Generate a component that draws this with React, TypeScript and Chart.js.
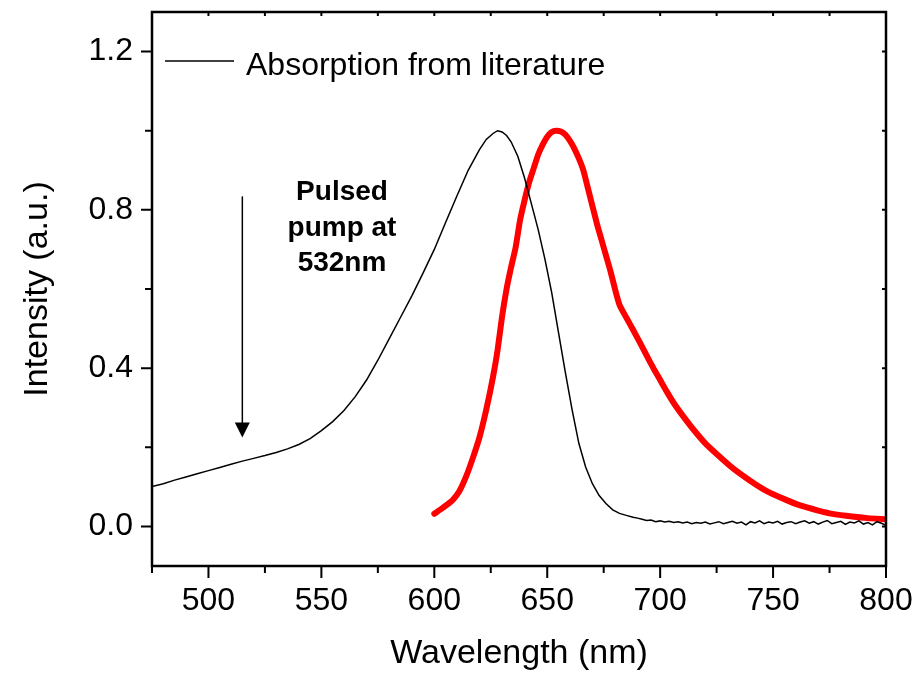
import React, { useEffect, useRef } from "react";
import { Chart, registerables } from "chart.js";

Chart.register(...registerables);

// ---------- data ----------
const absWavelength = [
  475, 480, 485, 490, 495, 500, 505, 510, 515, 520, 525, 530, 535, 540, 545, 550, 555, 560, 565, 570,
  575, 580, 585, 590, 595, 600, 605, 610, 615, 620, 623, 626, 628, 630, 632, 634, 637, 640, 643, 646,
  649, 652, 655, 658, 661, 664, 667, 670, 673, 676, 679, 682, 685, 688, 690, 692, 694, 696, 698, 700,
  702, 704, 706, 708, 710, 712, 714, 716, 718, 720, 722, 724, 726, 728, 730, 732, 734, 736, 738, 740,
  742, 744, 746, 748, 750, 752, 754, 756, 758, 760, 762, 764, 766, 768, 770, 772, 774, 776, 778, 780,
  782, 784, 786, 788, 790, 792, 794, 796, 798, 800,
];
const absIntensity = [
  0.101, 0.108, 0.117, 0.125, 0.133, 0.141, 0.149, 0.157, 0.165, 0.172, 0.179, 0.187, 0.196, 0.207, 0.222, 0.242, 0.265, 0.293, 0.328, 0.370,
  0.420, 0.474, 0.528, 0.582, 0.640, 0.700, 0.768, 0.835, 0.900, 0.952, 0.978, 0.993, 1.000, 0.997, 0.988, 0.972, 0.935, 0.880, 0.815, 0.750,
  0.675, 0.590, 0.490, 0.390, 0.295, 0.210, 0.150, 0.108, 0.078, 0.058, 0.042, 0.033, 0.028, 0.023, 0.021, 0.018, 0.015, 0.016, 0.012, 0.014,
  0.011, 0.013, 0.010, 0.012, 0.009, 0.011, 0.007, 0.010, 0.008, 0.011, 0.006, 0.009, 0.012, 0.007, 0.010, 0.013, 0.008, 0.011, 0.004, 0.012,
  0.009, 0.014, 0.007, 0.011, 0.009, 0.013, 0.006, 0.010, 0.012, 0.007, 0.011, 0.014, 0.008, 0.012, 0.006, 0.011, 0.015, 0.007, 0.010, 0.013,
  0.005, 0.011, 0.009, 0.014, 0.006, 0.010, 0.004, 0.012, 0.008, 0.003,
];

const emWavelength = [
  600, 604, 608, 611, 614, 617, 620, 623, 626, 628, 630, 632, 634, 636, 638, 640, 642, 644, 646, 648,
  650, 652, 654, 656, 658, 660, 662, 664, 666, 668, 670, 672, 674, 676, 678, 680, 682, 685, 688, 691,
  694, 697, 700, 703, 706, 710, 715, 720, 726, 732, 740, 747, 755, 762, 770, 777, 785, 792, 800,
];
const emIntensity = [
  0.032, 0.048, 0.066, 0.088, 0.125, 0.172, 0.225, 0.295, 0.378, 0.445, 0.530, 0.600, 0.655, 0.705, 0.775, 0.825, 0.870, 0.905, 0.940, 0.965,
  0.985, 0.997, 1.000, 0.998, 0.990, 0.975, 0.955, 0.930, 0.900, 0.855, 0.810, 0.765, 0.725, 0.685, 0.645, 0.600, 0.560, 0.528, 0.497, 0.465,
  0.432, 0.400, 0.370, 0.340, 0.312, 0.280, 0.243, 0.210, 0.178, 0.148, 0.115, 0.090, 0.069, 0.053, 0.040, 0.031, 0.025, 0.021, 0.018,
];

const xMajorTicks = [500, 550, 600, 650, 700, 750, 800];
const xMinorTicks = [475, 525, 575, 625, 675, 725, 775];
const yMajorTicks = [0.0, 0.4, 0.8, 1.2];
const yMinorTicks = [0.2, 0.6, 1.0];

const xMin = 475;
const xMax = 800;
const yMin = -0.1;
const yMax = 1.3;

const legendLabel = "Absorption from literature";
const annotationLines = ["Pulsed", "pump at", "532nm"];
const arrowWavelength = 515;
const arrowTop = 0.834;
const arrowTip = 0.225;

const FONT = 'Arial, "Liberation Sans", Helvetica, sans-serif';

const framePlugin = {
  id: "framePlugin",
  afterDatasetsDraw(chart: any) {
    const ctx = chart.ctx;
    const { left, right, top, bottom } = chart.chartArea;
    const xs = chart.scales.x;
    const ys = chart.scales.y;
    ctx.save();
    ctx.strokeStyle = "#000";
    ctx.fillStyle = "#000";

    // ticks
    ctx.lineWidth = 2;
    ctx.beginPath();
    xMajorTicks.forEach((v) => {
      const px = xs.getPixelForValue(v);
      ctx.moveTo(px, bottom);
      ctx.lineTo(px, bottom + 12);
      ctx.moveTo(px, top);
      ctx.lineTo(px, top + 4);
    });
    xMinorTicks.forEach((v) => {
      const px = xs.getPixelForValue(v);
      ctx.moveTo(px, bottom);
      ctx.lineTo(px, bottom + 7);
      ctx.moveTo(px, top);
      ctx.lineTo(px, top + 4);
    });
    yMajorTicks.forEach((v) => {
      const py = ys.getPixelForValue(v);
      ctx.moveTo(left, py);
      ctx.lineTo(left - 11, py);
      ctx.moveTo(right, py);
      ctx.lineTo(right - 4, py);
    });
    yMinorTicks.forEach((v) => {
      const py = ys.getPixelForValue(v);
      ctx.moveTo(left, py);
      ctx.lineTo(left - 7, py);
      ctx.moveTo(right, py);
      ctx.lineTo(right - 4, py);
    });
    ctx.stroke();

    // frame
    ctx.lineWidth = 2.5;
    ctx.strokeRect(left, top, right - left, bottom - top);

    // legend
    ctx.lineWidth = 1.5;
    ctx.beginPath();
    ctx.moveTo(left + 13, top + 49);
    ctx.lineTo(left + 82, top + 49);
    ctx.stroke();
    ctx.font = `32px ${FONT}`;
    ctx.textAlign = "left";
    ctx.textBaseline = "alphabetic";
    ctx.fillText(legendLabel, left + 94, top + 63);

    // annotation text
    ctx.font = `bold 28px ${FONT}`;
    ctx.textAlign = "center";
    annotationLines.forEach((t, i) => {
      ctx.fillText(t, left + 190, top + 188 + i * 35.5);
    });

    // arrow
    const ax = xs.getPixelForValue(arrowWavelength);
    const ay0 = ys.getPixelForValue(arrowTop);
    const ay1 = ys.getPixelForValue(arrowTip);
    ctx.lineWidth = 1.5;
    ctx.beginPath();
    ctx.moveTo(ax, ay0);
    ctx.lineTo(ax, ay1 - 10);
    ctx.stroke();
    ctx.beginPath();
    ctx.moveTo(ax - 7.5, ay1 - 15);
    ctx.lineTo(ax + 7.5, ay1 - 15);
    ctx.lineTo(ax, ay1);
    ctx.closePath();
    ctx.fill();

    ctx.restore();
  },
};

export default function App() {
  const canvasRef = useRef<HTMLCanvasElement | null>(null);

  useEffect(() => {
    if (!canvasRef.current) return;
    Chart.defaults.font.family = FONT;
    Chart.defaults.color = "#000";
    const chart = new Chart(canvasRef.current, {
      type: "line",
      data: {
        datasets: [
          {
            label: "Absorption",
            data: absWavelength.map((x, i) => ({ x, y: absIntensity[i] })),
            borderColor: "#000",
            borderWidth: 1.5,
            pointRadius: 0,
            tension: 0,
          },
          {
            label: "Emission",
            data: emWavelength.map((x, i) => ({ x, y: emIntensity[i] })),
            borderColor: "#ff0000",
            borderWidth: 6,
            pointRadius: 0,
            tension: 0.2,
            borderCapStyle: "round",
            borderJoinStyle: "round",
          },
        ],
      },
      options: {
        animation: false,
        responsive: false,
        events: [],
        layout: { padding: { top: 12, right: 31, left: 0, bottom: 0 } },
        plugins: { legend: { display: false }, tooltip: { enabled: false } },
        scales: {
          x: {
            type: "linear",
            min: xMin,
            max: xMax,
            afterFit: (s: any) => {
              s.height = 107;
              s.paddingLeft = 0;
              s.paddingRight = 0;
              s.paddingTop = 0;
              s.paddingBottom = 0;
            },
            afterBuildTicks: (s: any) => {
              s.ticks = xMajorTicks.map((v) => ({ value: v }));
            },
            grid: { display: true, drawOnChartArea: false, drawTicks: false, color: "transparent" },
            border: { display: false },
            ticks: {
              font: { size: 32, lineHeight: 1 },
              padding: 19,
              color: "#000",
              maxRotation: 0,
              autoSkip: false,
              callback: (v: any) => String(v),
            },
            title: {
              display: true,
              text: "Wavelength (nm)",
              font: { size: 34, lineHeight: 1 },
              padding: { top: 0, bottom: 2 },
              color: "#000",
            },
          },
          y: {
            type: "linear",
            min: yMin,
            max: yMax,
            afterFit: (s: any) => {
              s.width = 152;
              s.paddingLeft = 0;
              s.paddingRight = 0;
              s.paddingTop = 0;
              s.paddingBottom = 0;
            },
            afterBuildTicks: (s: any) => {
              s.ticks = yMajorTicks.map((v) => ({ value: v }));
            },
            grid: { display: true, drawOnChartArea: false, drawTicks: false, color: "transparent" },
            border: { display: false },
            ticks: {
              font: { size: 32, lineHeight: 1 },
              padding: 19,
              color: "#000",
              autoSkip: false,
              callback: (v: any) => Number(v).toFixed(1),
            },
            title: {
              display: true,
              text: "Intensity (a.u.)",
              font: { size: 34, lineHeight: 1 },
              padding: { top: 21, bottom: 0 },
              color: "#000",
            },
          },
        },
      },
      plugins: [framePlugin],
    });
    return () => chart.destroy();
  }, []);

  return (
    <div style={{ position: "absolute", left: 0, top: 0, width: 917, height: 673, background: "#fff" }}>
      <canvas ref={canvasRef} width={917} height={673} style={{ display: "block" }} />
    </div>
  );
}
